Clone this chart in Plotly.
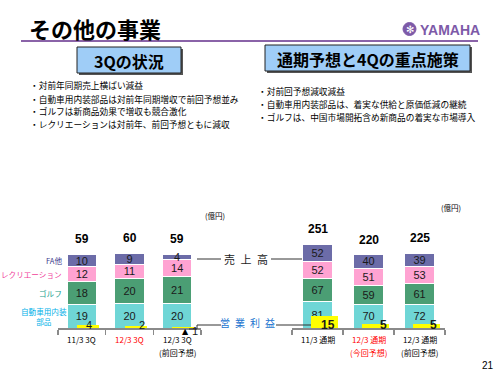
import plotly.graph_objects as go

# ---------------- data ----------------
q_cats = ["11/3 3Q", "12/3 3Q", "12/3 3Q 前回予想"]
q_label1 = ["11/3 3Q", "12/3 3Q", "12/3 3Q"]
q_label2 = ["", "", "(前回予想)"]
q_label_colors = ["#000000", "#ff0000", "#000000"]
q_auto = [19, 20, 20]
q_golf = [18, 20, 21]
q_rec = [12, 11, 14]
q_fa = [10, 9, 4]
q_total = [59, 60, 59]
q_op = [4, 2, 1]

fy_cats = ["11/3 通期", "12/3 通期 今回予想", "12/3 通期 前回予想"]
fy_label1 = ["11/3 通期", "12/3 通期", "12/3 通期"]
fy_label2 = ["", "(今回予想)", "(前回予想)"]
fy_label_colors = ["#000000", "#ff0000", "#000000"]
fy_auto = [81, 70, 72]
fy_golf = [67, 59, 61]
fy_rec = [52, 51, 53]
fy_fa = [52, 40, 39]
fy_total = [251, 220, 225]
fy_op = [15, 5, 5]

series_names = ["自動車用内装<br>部品", "ゴルフ", "レクリエーション", "FA他"]
series_colors = ["#6fd6d6", "#4b9e74", "#ffa3d2", "#6c6ca8"]
label_colors = ["#00b0e8", "#199e8e", "#f0409a", "#3a3a8c"]

bullets_left = [
    "・対前年同期売上横ばい減益",
    "・自動車用内装部品は対前年同期増収で前回予想並み",
    "・ゴルフは新商品効果で増収も競合激化",
    "・レクリエーションは対前年、前回予想ともに減収",
]
bullets_right = [
    "・対前回予想減収減益",
    "・自動車用内装部品は、着実な供給と原価低減の継続",
    "・ゴルフは、中国市場開拓含め新商品の着実な市場導入",
]

W, H = 500, 375
def X(px):
    return px / W
def Y(py):
    return 1 - py / H

JP = "Noto Sans CJK JP, sans-serif"
NUM = "Liberation Sans, Arial, sans-serif"

fig = go.Figure()

q_series = [q_auto, q_golf, q_rec, q_fa]
fy_series = [fy_auto, fy_golf, fy_rec, fy_fa]

for vals, name, col in zip(q_series, series_names, series_colors):
    fig.add_trace(go.Bar(
        x=q_cats, y=vals, name=name, xaxis="x", yaxis="y",
        width=0.61, marker=dict(color=col, line=dict(color="white", width=1)),
        text=vals, textposition="inside", insidetextanchor="middle",
        constraintext="none", textangle=0,
        textfont=dict(size=11, color="#1a1a1a", family=NUM),
        showlegend=False, hoverinfo="skip"))

for vals, name, col in zip(fy_series, series_names, series_colors):
    fig.add_trace(go.Bar(
        x=fy_cats, y=vals, name=name, xaxis="x2", yaxis="y2",
        width=0.57, marker=dict(color=col, line=dict(color="white", width=1)),
        text=vals, textposition="inside", insidetextanchor="middle",
        constraintext="none", textangle=0,
        textfont=dict(size=11, color="#1a1a1a", family=NUM),
        showlegend=False, hoverinfo="skip"))

# operating income (yellow)
fig.add_trace(go.Bar(x=q_cats, y=q_op, xaxis="x", yaxis="y3", width=0.46, offset=-0.1,
                     marker=dict(color="#ffff00", line=dict(width=0)),
                     showlegend=False, hoverinfo="skip"))
fig.add_trace(go.Bar(x=fy_cats, y=fy_op, xaxis="x2", yaxis="y4", width=0.53, offset=-0.12,
                     marker=dict(color="#ffff00", line=dict(width=0)),
                     showlegend=False, hoverinfo="skip"))

xcommon = dict(type="category", range=[-0.5, 2.5], showline=True, linecolor="#8a8a8a",
               linewidth=1.5, ticks="outside", tickson="boundaries", ticklen=5,
               tickcolor="#8a8a8a", tickwidth=1.5, showticklabels=False,
               showgrid=False, zeroline=False, fixedrange=True)
ydom = [Y(328), Y(208)]
ycommon = dict(visible=False, showgrid=False, zeroline=False, fixedrange=True)

fig.update_layout(
    width=W, height=H, margin=dict(l=0, r=0, t=0, b=0),
    paper_bgcolor="white", plot_bgcolor="rgba(0,0,0,0)",
    barmode="stack", bargap=0,
    xaxis=dict(domain=[X(58), X(201)], anchor="y", **xcommon),
    xaxis2=dict(domain=[X(292), X(445)], anchor="y2", **xcommon),
    yaxis=dict(domain=ydom, range=[0, 96], anchor="x", **ycommon),
    yaxis2=dict(domain=ydom, range=[0, 360], anchor="x2", **ycommon),
    yaxis3=dict(overlaying="y", range=[0, 150], anchor="x", **ycommon),
    yaxis4=dict(overlaying="y2", range=[0, 150], anchor="x2", **ycommon),
)

ann = []
shapes = []

# title
ann.append(dict(text="<b>その他の事業</b>", x=X(27), y=Y(28), xref="paper", yref="paper",
                xanchor="left", yanchor="middle", showarrow=False,
                font=dict(size=22, family=JP, color="#000000")))
shapes.append(dict(type="line", xref="paper", yref="paper", x0=X(21), x1=X(478),
                   y0=Y(41), y1=Y(41), line=dict(color="#8a63a8", width=2)))
# YAMAHA logo
shapes.append(dict(type="circle", xref="paper", yref="paper", x0=X(403), x1=X(416),
                   y0=Y(35.5), y1=Y(22.5), fillcolor="#7d5aa8", line=dict(color="#7d5aa8", width=1)))
ann.append(dict(text="✻", x=X(409.5), y=Y(29), xref="paper", yref="paper", showarrow=False,
                font=dict(size=10, color="white", family="DejaVu Sans"), xanchor="center", yanchor="middle"))
ann.append(dict(text="<b>YAMAHA</b>", x=X(418), y=Y(29.5), xref="paper", yref="paper",
                xanchor="left", yanchor="middle", showarrow=False,
                font=dict(size=14, family="Liberation Sans Narrow, Arial Narrow, sans-serif", color="#7d5aa8")))

# heading boxes
for (x0, x1, y0, y1, txt) in [(77, 181, 47, 73, "3Qの状況"), (265, 470, 45, 71, "通期予想と4Qの重点施策")]:
    shapes.append(dict(type="rect", xref="paper", yref="paper", x0=X(x0 + 2), x1=X(x1 + 2),
                       y0=Y(y1 + 2), y1=Y(y0 + 2), fillcolor="#555555", line=dict(width=0)))
    shapes.append(dict(type="rect", xref="paper", yref="paper", x0=X(x0), x1=X(x1),
                       y0=Y(y1), y1=Y(y0), fillcolor="#9fcdf7", line=dict(color="#222222", width=1)))
    ann.append(dict(text="<b>" + txt + "</b>", x=X((x0 + x1) / 2), y=Y((y0 + y1) / 2 + 0.5),
                    xref="paper", yref="paper", showarrow=False, xanchor="center", yanchor="middle",
                    font=dict(size=16, family=JP, color="#000000")))

# bullets
for i, t in enumerate(bullets_left):
    ann.append(dict(text=t, x=X(28), y=Y([85, 99, 112, 125][i]), xref="paper", yref="paper",
                    xanchor="left", yanchor="middle", showarrow=False,
                    font=dict(size=8.7, family=JP, color="#000000")))
for i, t in enumerate(bullets_right):
    ann.append(dict(text=t, x=X(256), y=Y([91, 104, 117][i]), xref="paper", yref="paper",
                    xanchor="left", yanchor="middle", showarrow=False,
                    font=dict(size=8.7, family=JP, color="#000000")))

# units
ann.append(dict(text="(億円)", x=X(215), y=Y(215), xref="paper", yref="paper", showarrow=False,
                xanchor="center", yanchor="middle", font=dict(size=7.5, family=JP, color="#000")))
ann.append(dict(text="(億円)", x=X(451), y=Y(207), xref="paper", yref="paper", showarrow=False,
                xanchor="center", yanchor="middle", font=dict(size=7.5, family=JP, color="#000")))

# totals
for cats, tots, xr, yr, ys in [(q_cats, q_total, "x", "y", 6), (fy_cats, fy_total, "x2", "y2", 6)]:
    for c, t in zip(cats, tots):
        ann.append(dict(text="<b>%d</b>" % t, x=c, y=t, xref=xr, yref=yr, showarrow=False,
                        xanchor="center", yanchor="bottom", yshift=ys,
                        font=dict(size=12, family=NUM, color="#000")))

# category labels
for cats, l1, l2, cols, xr in [(q_cats, q_label1, q_label2, q_label_colors, "x"),
                                (fy_cats, fy_label1, fy_label2, fy_label_colors, "x2")]:
    for c, a, b, col in zip(cats, l1, l2, cols):
        ann.append(dict(text=a, x=c, y=Y(339.5), xref=xr, yref="paper", showarrow=False,
                        xanchor="center", yanchor="middle", font=dict(size=8, family=JP, color=col)))
        if b:
            ann.append(dict(text=b, x=c, y=Y(352), xref=xr, yref="paper", showarrow=False,
                            xanchor="center", yanchor="middle", font=dict(size=8, family=JP, color=col)))

# series labels at left of first bar (aligned to segment midpoints)
base = 0
for vals, name, lc in zip(q_series, series_names, label_colors):
    mid = base + vals[0] / 2
    base += vals[0]
    if "<br>" in name:
        ann.append(dict(text=name, x=q_cats[0], y=mid, xref="x", yref="y", showarrow=False,
                        xanchor="center", yanchor="middle", xshift=-38,
                        font=dict(size=7.6, family=JP, color=lc)))
    else:
        ann.append(dict(text=name, x=q_cats[0], y=mid, xref="x", yref="y", showarrow=False,
                        xanchor="right", yanchor="middle", xshift=-18,
                        font=dict(size=7.6, family=JP, color=lc)))

# operating income labels
for i, (c, v) in enumerate(zip(q_cats, q_op)):
    if i < 2:
        ann.append(dict(text=str(v), x=c, y=0, xref="x", yref="y3", showarrow=False,
                        xanchor="center", yanchor="middle", xshift=[7, 12][i], yshift=3,
                        font=dict(size=11, family=NUM, color="#1a1a1a")))
    else:
        ann.append(dict(text="▲", x=c, y=0, xref="x", yref="y3", showarrow=False,
                        xanchor="center", yanchor="middle", xshift=8, yshift=-3, borderpad=0,
                        font=dict(size=8, family="DejaVu Sans", color="#000")))
        ann.append(dict(text=str(v), x=c, y=0, xref="x", yref="y3", showarrow=False,
                        xanchor="left", yanchor="middle", xshift=13, yshift=-3,
                        font=dict(size=11, family=NUM, color="#1a1a1a")))
for i, (c, v) in enumerate(zip(fy_cats, fy_op)):
    ann.append(dict(text="<b>%d</b>" % v, x=c, y=0, xref="x2", yref="y4", showarrow=False,
                    xanchor="center", yanchor="middle", xshift=[10, 15, 14][i], yshift=3,
                    font=dict(size=12, family=NUM, color="#1a1a1a")))

# connector labels
ann.append(dict(text="売\u2002上\u2002高", x=X(246), y=Y(259), xref="paper", yref="paper",
                showarrow=False, xanchor="center", yanchor="middle",
                font=dict(size=11, family=JP, color="#222")))
ann.append(dict(text="営\u2002業\u2002利\u2002益", x=X(247), y=Y(322), xref="paper", yref="paper",
                showarrow=False, xanchor="center", yanchor="middle",
                font=dict(size=10, family=JP, color="#1a73cf")))
ann.append(dict(text="21", x=X(488), y=Y(365), xref="paper", yref="paper", showarrow=False,
                xanchor="center", yanchor="middle", font=dict(size=10, family=NUM, color="#000")))

lc = dict(color="#333333", width=1)
shapes += [
    dict(type="line", xref="paper", yref="paper", x0=X(197), x1=X(221), y0=Y(259), y1=Y(259), line=lc),
    dict(type="line", xref="paper", yref="paper", x0=X(271), x1=X(302), y0=Y(259), y1=Y(259), line=lc),
    dict(type="path", xref="paper", yref="paper",
         path="M %f %f L %f %f L %f %f L %f %f" % (X(221), Y(325), X(197), Y(325), X(197), Y(329), X(189), Y(329)),
         line=lc),
    dict(type="line", xref="paper", yref="paper", x0=X(276), x1=X(311), y0=Y(325), y1=Y(325), line=lc),
]

fig.update_layout(annotations=ann, shapes=shapes)
fig.write_html("out.html", config={"displayModeBar": False, "staticPlot": True},
               post_script="document.body.style.margin='0';document.body.style.overflow='hidden';")
